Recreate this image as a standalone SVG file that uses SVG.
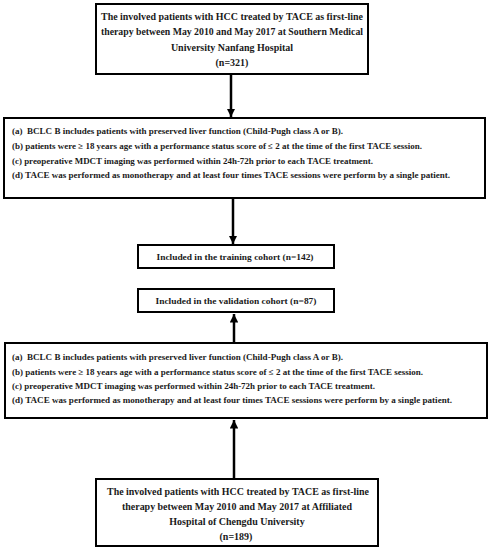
<svg xmlns="http://www.w3.org/2000/svg" width="491" height="550" viewBox="0 0 491 550">
<defs>
<style>
.box{fill:#fff;stroke:#000;stroke-width:2}
.t{font-family:"Liberation Serif","DejaVu Serif",serif;font-weight:bold;fill:#1a1a1a}
.c{font-size:10px;text-anchor:middle}
.l{font-size:8.6px}
.m{font-size:9px;text-anchor:middle}
.conn{stroke:#000;stroke-width:2.5;fill:none}
</style>
<marker id="ah" viewBox="0 0 10 10" refX="10" refY="5" markerWidth="3.4" markerHeight="3.4" orient="auto" markerUnits="strokeWidth">
<path d="M0,0 L10,5 L0,10 z" fill="#000"/>
</marker>
</defs>
<rect width="491" height="550" fill="#fff"/>
<g id="connectors">
<line class="conn" x1="231" y1="75" x2="231" y2="117" marker-end="url(#ah)"/>
<line class="conn" x1="233" y1="199" x2="233" y2="244" marker-end="url(#ah)"/>
<line class="conn" x1="234" y1="342" x2="234" y2="314" marker-end="url(#ah)"/>
<line class="conn" x1="234" y1="478" x2="234" y2="420" marker-end="url(#ah)"/>
</g>
<g id="source-nanfang">
<rect class="box" x="96" y="4" width="272" height="70" stroke-width="2.5"/>
<text class="t c" x="232" y="20" textLength="262" lengthAdjust="spacingAndGlyphs">The involved patients with HCC treated by TACE as first-line</text>
<text class="t c" x="232" y="35" textLength="262" lengthAdjust="spacingAndGlyphs">therapy between May 2010 and May 2017 at Southern Medical</text>
<text class="t c" x="232" y="51">University Nanfang Hospital</text>
<text class="t c" x="232" y="66">(n=321)</text>
</g>
<g id="criteria-training">
<rect class="box" x="4" y="118" width="481" height="80"/>
<text class="t l" x="12" y="134" xml:space="preserve" textLength="331" lengthAdjust="spacingAndGlyphs">(a)  BCLC B includes patients with preserved liver function (Child-Pugh class A or B).</text>
<text class="t l" x="12" y="149" textLength="410" lengthAdjust="spacingAndGlyphs">(b) patients were ≥ 18 years age with a performance status score of ≤ 2 at the time of the first TACE session.</text>
<text class="t l" x="12" y="164" textLength="361" lengthAdjust="spacingAndGlyphs">(c) preoperative MDCT imaging was performed within 24h-72h prior to each TACE treatment.</text>
<text class="t l" x="12" y="178" textLength="438" lengthAdjust="spacingAndGlyphs">(d) TACE was performed as monotherapy and at least four times TACE sessions were perform by a single patient.</text>
</g>
<g id="training">
<rect class="box" x="138" y="245" width="196" height="23"/>
<text class="t m" x="235" y="260" textLength="157" lengthAdjust="spacingAndGlyphs">Included in the training cohort (n=142)</text>
</g>
<g id="validation">
<rect class="box" x="138" y="289" width="196" height="23"/>
<text class="t m" x="236" y="304" textLength="161" lengthAdjust="spacingAndGlyphs">Included in the validation cohort (n=87)</text>
</g>
<g id="criteria-validation">
<rect class="box" x="5" y="343" width="482" height="75"/>
<text class="t l" x="12" y="360" xml:space="preserve" textLength="331" lengthAdjust="spacingAndGlyphs">(a)  BCLC B includes patients with preserved liver function (Child-Pugh class A or B).</text>
<text class="t l" x="12" y="374.5" textLength="411" lengthAdjust="spacingAndGlyphs">(b) patients were ≥ 18 years age with a performance status score of ≤ 2 at the time of the first TACE session.</text>
<text class="t l" x="12" y="389" textLength="363" lengthAdjust="spacingAndGlyphs">(c) preoperative MDCT imaging was performed within 24h-72h prior to each TACE treatment.</text>
<text class="t l" x="12" y="403" textLength="440" lengthAdjust="spacingAndGlyphs">(d) TACE was performed as monotherapy and at least four times TACE sessions were perform by a single patient.</text>
</g>
<g id="source-chengdu">
<rect class="box" x="96" y="479" width="282" height="67" stroke-width="2.5"/>
<text class="t c" x="238" y="495" textLength="262" lengthAdjust="spacingAndGlyphs">The involved patients with HCC treated by TACE as first-line</text>
<text class="t c" x="237" y="510" textLength="230" lengthAdjust="spacingAndGlyphs">therapy between May 2010 and May 2017 at Affiliated</text>
<text class="t c" x="237" y="525">Hospital of Chengdu University</text>
<text class="t c" x="236" y="540">(n=189)</text>
</g>
</svg>
